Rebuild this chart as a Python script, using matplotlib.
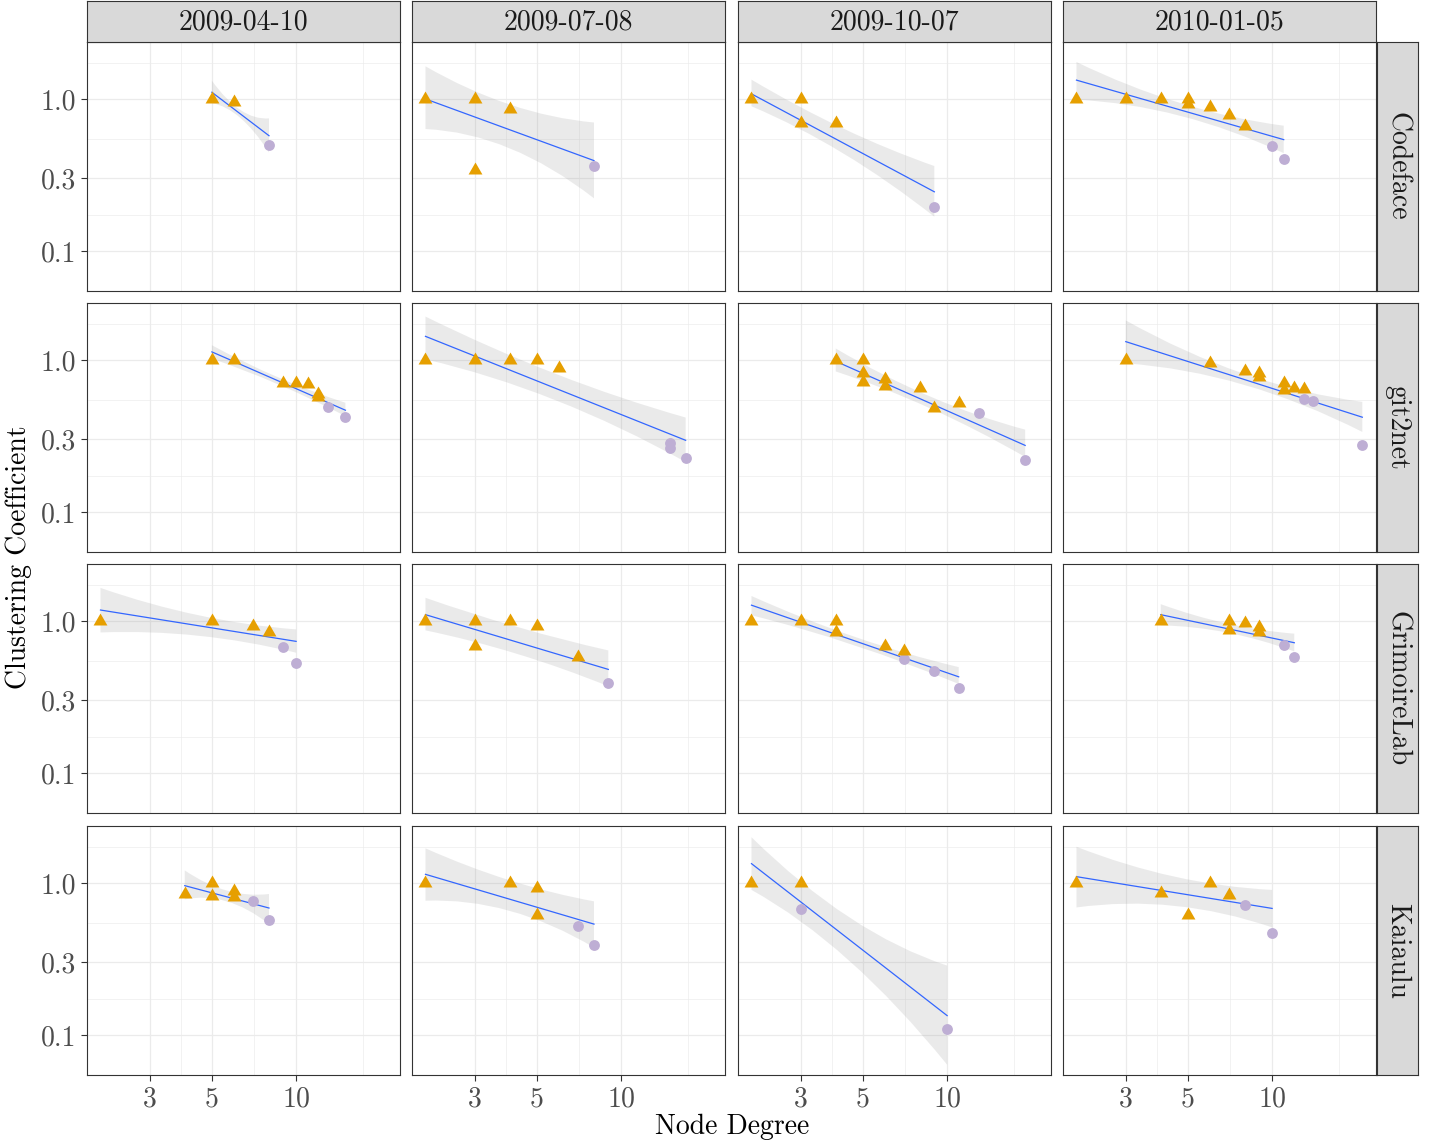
import numpy as np
import matplotlib
matplotlib.use("Agg")
import matplotlib.pyplot as plt
from matplotlib.path import Path
from matplotlib.patches import PathPatch
from matplotlib.ticker import NullFormatter

plt.rcParams['font.family'] = 'cmr10'
plt.rcParams['mathtext.fontset'] = 'cm'
plt.rcParams['axes.formatter.use_mathtext'] = True

# Facetas
fechas = ["2009-04-10", "2009-07-08", "2009-10-07", "2010-01-05"]
proyectos = ["Codeface", "git2net", "GrimoireLab", "Kaiaulu"]

# Puntos: grado de nodo, coeficiente de clustering, tipo (1 = triángulo, 0 = círculo)
grado_codeface = [[5, 6, 8], [2, 3, 4, 3, 8], [2, 3, 3, 4, 9], [2, 3, 4, 5, 5, 6, 7, 8, 10, 11]]
cc_codeface = [[1.0, 0.96, 0.50], [1.0, 1.0, 0.86, 0.34, 0.36], [1.0, 1.0, 0.69, 0.69, 0.195],
               [1.0, 1.0, 1.0, 1.0, 0.93, 0.89, 0.78, 0.66, 0.49, 0.40]]
tipo_codeface = [[1, 1, 0], [1, 1, 1, 1, 0], [1, 1, 1, 1, 0], [1, 1, 1, 1, 1, 1, 1, 1, 0, 0]]

grado_git2net = [[5, 6, 9, 10, 11, 12, 12, 13, 15], [2, 3, 4, 5, 6, 15, 15, 17],
                 [4, 5, 5, 5, 6, 6, 8, 9, 11, 13, 19], [3, 6, 8, 9, 9, 11, 11, 12, 13, 13, 14, 21]]
cc_git2net = [[1.0, 1.0, 0.71, 0.70, 0.69, 0.60, 0.57, 0.49, 0.42],
              [1.0, 1.0, 1.0, 1.0, 0.89, 0.284, 0.265, 0.227],
              [1.0, 1.0, 0.82, 0.72, 0.75, 0.67, 0.65, 0.48, 0.52, 0.45, 0.22],
              [1.0, 0.95, 0.84, 0.82, 0.77, 0.71, 0.63, 0.65, 0.64, 0.55, 0.54, 0.276]]
tipo_git2net = [[1, 1, 1, 1, 1, 1, 1, 0, 0], [1, 1, 1, 1, 1, 0, 0, 0],
                [1, 1, 1, 1, 1, 1, 1, 1, 1, 0, 0], [1, 1, 1, 1, 1, 1, 1, 1, 1, 0, 0, 0]]

grado_grimoire = [[2, 5, 7, 8, 9, 10], [2, 3, 3, 4, 5, 7, 9], [2, 3, 4, 4, 6, 7, 7, 9, 11],
                  [4, 7, 7, 8, 9, 9, 11, 12]]
cc_grimoire = [[1.0, 1.0, 0.93, 0.84, 0.67, 0.53], [1.0, 1.0, 0.68, 1.0, 0.92, 0.58, 0.39],
               [1.0, 1.0, 1.0, 0.85, 0.68, 0.63, 0.56, 0.47, 0.36],
               [1.0, 1.0, 0.87, 0.97, 0.91, 0.84, 0.69, 0.575]]
tipo_grimoire = [[1, 1, 1, 1, 0, 0], [1, 1, 1, 1, 1, 1, 0], [1, 1, 1, 1, 1, 1, 0, 0, 0],
                 [1, 1, 1, 1, 1, 1, 0, 0]]

grado_kaiaulu = [[4, 5, 5, 6, 6, 7, 8], [2, 4, 5, 5, 7, 8], [2, 3, 3, 10], [2, 4, 5, 6, 7, 8, 10]]
cc_kaiaulu = [[0.85, 1.0, 0.82, 0.89, 0.81, 0.76, 0.57], [1.0, 1.0, 0.92, 0.62, 0.52, 0.39],
              [1.0, 1.0, 0.67, 0.11], [1.0, 0.86, 0.62, 1.0, 0.83, 0.72, 0.47]]
tipo_kaiaulu = [[1, 1, 1, 1, 1, 0, 0], [1, 1, 1, 1, 0, 0], [1, 1, 0, 0], [1, 1, 1, 1, 1, 0, 0]]

# Recta ajustada (valor en el grado mínimo y máximo) y banda (izq, centro, der)
ajuste_codeface = [(1.107, 0.573), (1.0, 0.393), (1.08, 0.245), (1.33, 0.54)]
sup_codeface = [(1.32, 0.845, 0.745), (1.64, 0.918, 0.70), (1.34, 0.64, 0.362), (1.75, 0.94, 0.667)]
inf_codeface = [(0.94, 0.75, 0.445), (0.634, 0.474, 0.222), (0.895, 0.44, 0.168), (0.99, 0.776, 0.44)]

ajuste_git2net = [(1.13, 0.467), (1.43, 0.296), (0.98, 0.274), (1.32, 0.42)]
sup_git2net = [(1.25, 0.764, 0.523), (1.93, 0.81, 0.418), (1.19, 0.573, 0.348), (1.82, 0.81, 0.53)]
inf_git2net = [(1.02, 0.69, 0.427), (1.01, 0.544, 0.213), (0.84, 0.48, 0.23), (0.95, 0.687, 0.336)]

ajuste_grimoire = [(1.18, 0.734), (1.10, 0.48), (1.27, 0.429), (1.10, 0.719)]
sup_grimoire = [(1.65, 1.09, 0.88), (1.42, 0.913, 0.64), (1.46, 0.784, 0.497), (1.29, 0.96, 0.825)]
inf_grimoire = [(0.84, 0.80, 0.618), (0.867, 0.608, 0.372), (1.09, 0.69, 0.385), (0.936, 0.838, 0.63)]

ajuste_kaiaulu = [(0.96, 0.684), (1.14, 0.536), (1.34, 0.134), (1.10, 0.68)]
sup_kaiaulu = [(1.21, 0.89, 0.846), (1.69, 1.04, 0.757), (2.0, 0.593, 0.286), (1.73, 1.10, 0.90)]
inf_kaiaulu = [(0.78, 0.757, 0.536), (0.764, 0.656, 0.376), (0.90, 0.308, 0.0637), (0.69, 0.708, 0.51)]

grados = [grado_codeface, grado_git2net, grado_grimoire, grado_kaiaulu]
ccs = [cc_codeface, cc_git2net, cc_grimoire, cc_kaiaulu]
tipos = [tipo_codeface, tipo_git2net, tipo_grimoire, tipo_kaiaulu]
ajustes = [ajuste_codeface, ajuste_git2net, ajuste_grimoire, ajuste_kaiaulu]
sups = [sup_codeface, sup_git2net, sup_grimoire, sup_kaiaulu]
infs = [inf_codeface, inf_git2net, inf_grimoire, inf_kaiaulu]

# Estilo
color_tri = "#E69F00"
color_circ = "#BEAED4"
color_linea = "#3366FF"
color_grid = "#EBEBEB"
tam = 20
triangulo = [(0, 1.555), (1.347, -0.778), (-1.347, -0.778)]

W, H = 1437, 1142
fig = plt.figure(figsize=(W / 100, H / 100), dpi=100)

col_izq = [87, 412, 738, 1063]
fila_sup = [42, 303, 564, 826]
ancho, alto = 313, 249


def px_ax(x, y, w, h):
    return fig.add_axes([x / W, 1 - (y + h) / H, w / W, h / H])


def banda(ax, x0, x1, sup, inf):
    # banda de confianza dibujada como curva de Bezier en espacio log
    xm = np.sqrt(x0 * x1)

    def ctrl(v):
        l = np.log10(v)
        return 10 ** (2 * l[1] - (l[0] + l[2]) / 2)

    verts = [(x0, sup[0]), (xm, ctrl(sup)), (x1, sup[2]),
             (x1, inf[2]), (xm, ctrl(inf)), (x0, inf[0]), (x0, sup[0])]
    codes = [Path.MOVETO, Path.CURVE3, Path.CURVE3, Path.LINETO,
             Path.CURVE3, Path.CURVE3, Path.CLOSEPOLY]
    ax.add_patch(PathPatch(Path(verts, codes), facecolor="#999999", alpha=0.2,
                           edgecolor="none", zorder=2))


for i, proyecto in enumerate(proyectos):
    for j, fecha in enumerate(fechas):
        ax = px_ax(col_izq[j], fila_sup[i], ancho, alto)
        ax.set_xscale("log")
        ax.set_yscale("log")
        ax.set_xlim(1.79, 23.5)
        ax.set_ylim(0.0545, 2.37)

        ax.set_xticks([3, 5, 10])
        ax.set_xticks([3.873, 7.071, 17.32], minor=True)
        ax.set_yticks([0.1, 0.3, 1.0])
        ax.set_yticks([0.1732, 0.5477, 1.732], minor=True)
        ax.xaxis.set_minor_formatter(NullFormatter())
        ax.yaxis.set_minor_formatter(NullFormatter())
        ax.grid(which="major", color=color_grid, lw=0.9)
        ax.grid(which="minor", color=color_grid, lw=0.45)
        ax.set_axisbelow(True)
        for s in ax.spines.values():
            s.set_color("#333333")
            s.set_linewidth(0.8)
        ax.tick_params(which="minor", length=0)
        ax.tick_params(which="major", length=4.3, width=0.8, color="#333333",
                       labelsize=tam, labelcolor="#4D4D4D", pad=3.5)

        if i == 3:
            ax.set_xticklabels(["3", "5", "10"])
        else:
            ax.tick_params(axis="x", which="major", length=0, labelbottom=False)
        if j == 0:
            ax.set_yticklabels(["0.1", "0.3", "1.0"])
        else:
            ax.tick_params(axis="y", which="major", length=0, labelleft=False)

        x = np.array(grados[i][j], dtype=float)
        y = np.array(ccs[i][j])
        t = np.array(tipos[i][j])
        x0, x1 = x.min(), x.max()

        banda(ax, x0, x1, sups[i][j], infs[i][j])
        ax.plot([x0, x1], ajustes[i][j], color=color_linea, lw=0.9, zorder=3)

        ax.plot(x[t == 0], y[t == 0], ls="none", marker="o", ms=7.8,
                color=color_circ, mec="none", zorder=4)
        ax.plot(x[t == 1], y[t == 1], ls="none", marker=triangulo, ms=11.5,
                color=color_tri, mec="none", zorder=5)

        # etiquetas de faceta
        if i == 0:
            sx = px_ax(col_izq[j], 1, ancho, 41)
            sx.set_facecolor("#D9D9D9")
            sx.set_xticks([])
            sx.set_yticks([])
            for s in sx.spines.values():
                s.set_color("#333333")
                s.set_linewidth(0.8)
            sx.text(0.5, 0.47, fecha, ha="center", va="center", fontsize=tam,
                    color="#1A1A1A", transform=sx.transAxes)
        if j == 3:
            sx = px_ax(1377, fila_sup[i], 41, alto)
            sx.set_facecolor("#D9D9D9")
            sx.set_xticks([])
            sx.set_yticks([])
            for s in sx.spines.values():
                s.set_color("#333333")
                s.set_linewidth(0.8)
            sx.text(0.5, 0.5, proyecto, ha="center", va="center", fontsize=tam,
                    color="#1A1A1A", rotation=-90, transform=sx.transAxes)

fig.text(732 / W, 1 - 1127 / H, "Node Degree", ha="center", va="center", fontsize=tam)
fig.text(19 / W, 1 - 557 / H, "Clustering Coefficient", ha="center", va="center",
         fontsize=tam, rotation=90)

fig.savefig("out.png", dpi=100)
